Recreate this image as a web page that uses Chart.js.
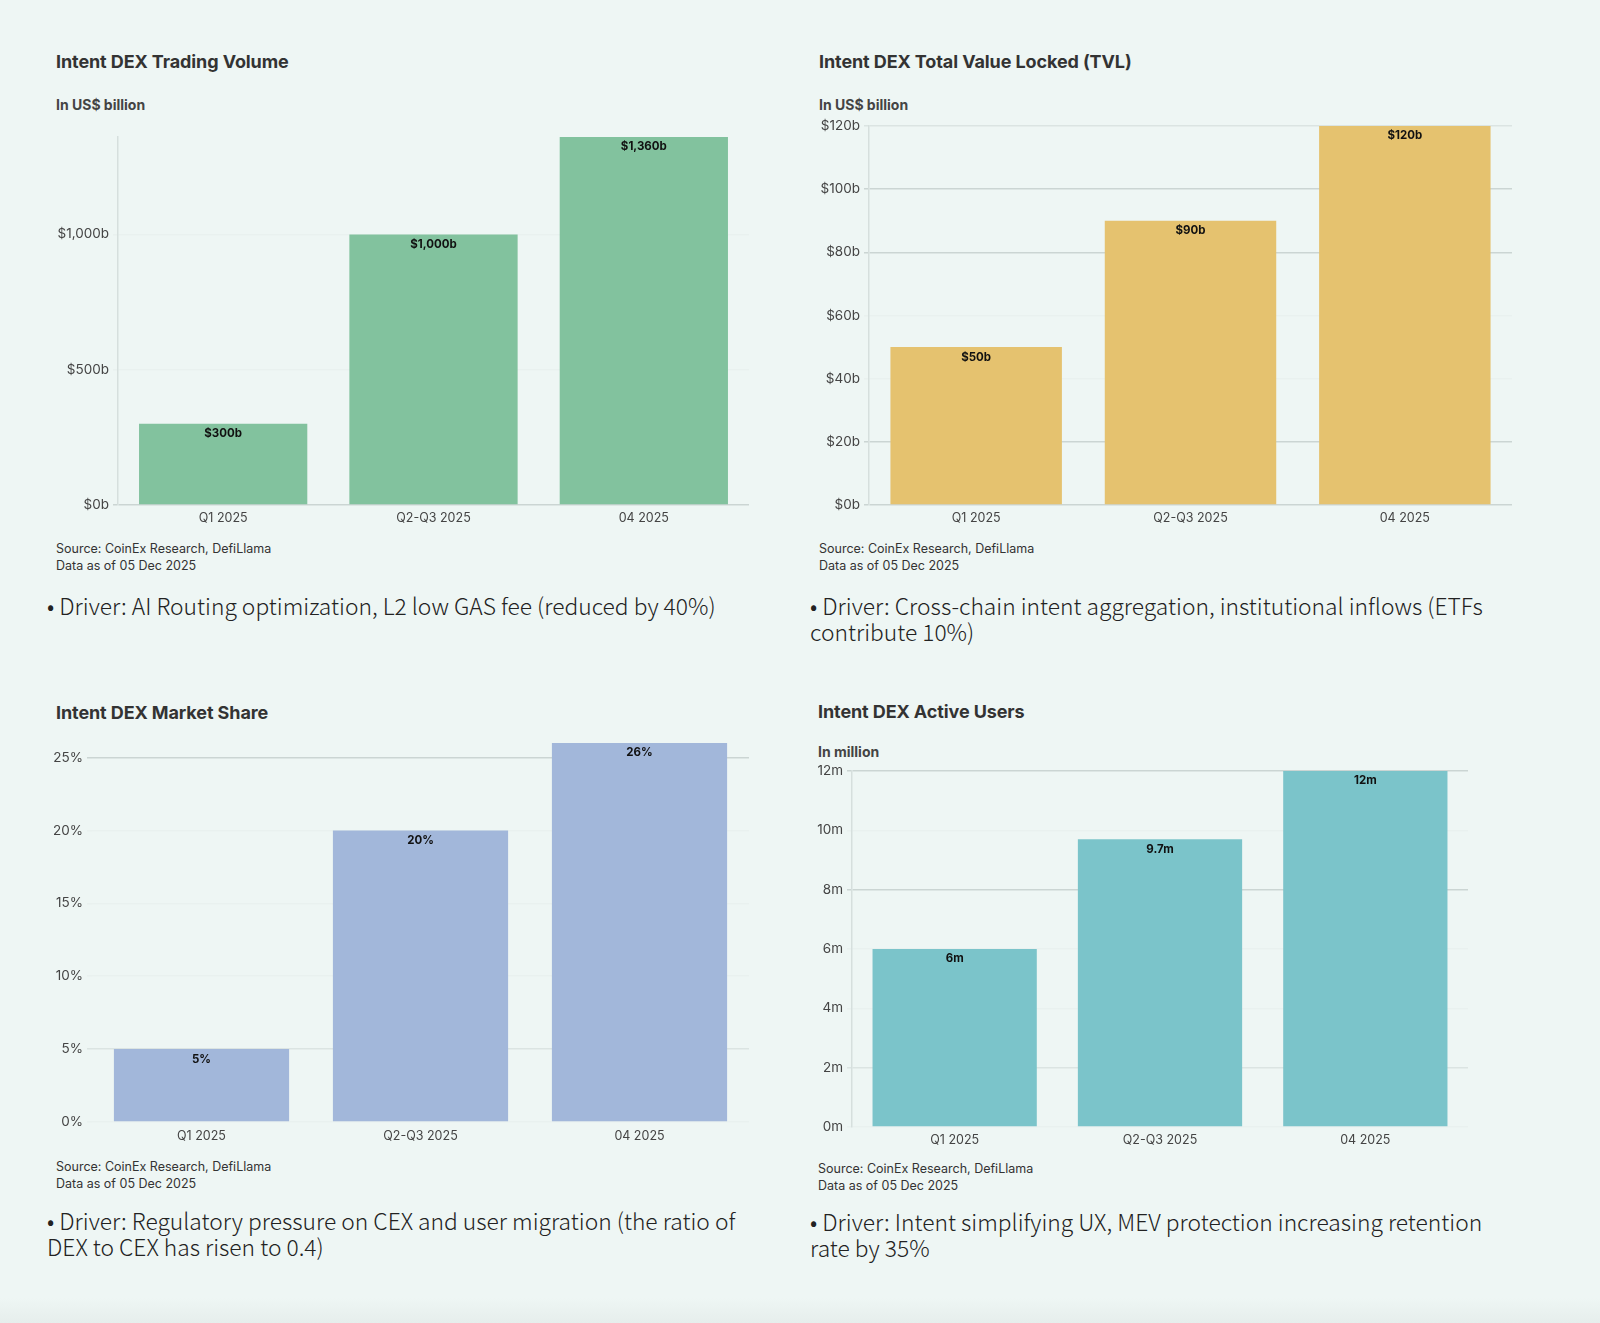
<!DOCTYPE html>
<html>
<head>
<meta charset="utf-8">
<script src="https://cdn.jsdelivr.net/npm/chart.js@4/dist/chart.umd.min.js"></script>
<style>
  html,body{margin:0;padding:0;}
  body{width:1600px;height:1323px;background:#eef6f4;position:relative;overflow:hidden;font-family:Inter,"Liberation Sans",sans-serif;color:#333;}
  .t{position:absolute;white-space:nowrap;}
  .title{font-size:18px;font-weight:700;color:#333;letter-spacing:-0.1px;}
  .sub{font-size:14px;font-weight:700;color:#444;}
  .src{font-size:12.5px;color:#333;line-height:17px;}
  .drv{font-family:"Noto Sans CJK JP","Noto Sans",sans-serif;font-weight:300;font-size:22.8px;color:#222;line-height:26px;}
  canvas{position:absolute;}
  .foot{position:absolute;left:0;right:0;top:1298px;height:25px;background:linear-gradient(#eef6f4,#e6eeec);}
</style>
</head>
<body>
<!-- top left -->
<div class="t title" style="left:56px;top:51px">Intent DEX Trading Volume</div>
<div class="t sub" style="left:56px;top:96px">In US$ billion</div>
<div class="t src" style="left:56px;top:540px">Source: CoinEx Research, DefiLlama<br>Data as of 05 Dec 2025</div>
<div class="t drv" style="left:47px;top:593px">• Driver: AI Routing optimization, L2 low GAS fee (reduced by 40%)</div>

<!-- top right -->
<div class="t title" style="left:819px;top:51px">Intent DEX Total Value Locked (TVL)</div>
<div class="t sub" style="left:819px;top:96px">In US$ billion</div>
<div class="t src" style="left:819px;top:540px">Source: CoinEx Research, DefiLlama<br>Data as of 05 Dec 2025</div>
<div class="t drv" style="left:810px;top:593px">• Driver: Cross-chain intent aggregation, institutional inflows (ETFs<br>contribute 10%)</div>

<!-- bottom left -->
<div class="t title" style="left:56px;top:702px">Intent DEX Market Share</div>
<div class="t src" style="left:56px;top:1158px">Source: CoinEx Research, DefiLlama<br>Data as of 05 Dec 2025</div>
<div class="t drv" style="left:47px;top:1208px">• Driver: Regulatory pressure on CEX and user migration (the ratio of<br>DEX to CEX has risen to 0.4)</div>

<!-- bottom right -->
<div class="t title" style="left:818px;top:701px">Intent DEX Active Users</div>
<div class="t sub" style="left:818px;top:743px">In million</div>
<div class="t src" style="left:818px;top:1160px">Source: CoinEx Research, DefiLlama<br>Data as of 05 Dec 2025</div>
<div class="t drv" style="left:810px;top:1209px">• Driver: Intent simplifying UX, MEV protection increasing retention<br>rate by 35%</div>

<canvas id="cVol"></canvas>
<canvas id="cTvl"></canvas>
<canvas id="cShare"></canvas>
<canvas id="cUsers"></canvas>
<div class="foot"></div>

<script>
// data
const categories = ['Q1 2025', 'Q2-Q3 2025', '04 2025'];
const volume = [300, 1000, 1360];      // US$ billion
const tvl = [50, 90, 120];             // US$ billion
const share = [5, 20, 26];             // %
const users = [6, 9.7, 12];            // million

const volTicks = [0, 500, 1000];
const tvlTicks = [0, 20, 40, 60, 80, 100, 120];
const shareTicks = [0, 5, 10, 15, 20, 25];
const userTicks = [0, 2, 4, 6, 8, 10, 12];

const el = id => document.getElementById(id);
const fmtNum = n => Number(n).toLocaleString('en-US');

// bar value labels, just under the top of each bar
function valueLabels(fmt){
  return {
    id: 'valueLabels',
    afterDatasetsDraw(chart){
      const ctx = chart.ctx;
      ctx.save();
      ctx.font = '700 11.5px Inter, sans-serif';
      ctx.fillStyle = '#111';
      ctx.textAlign = 'center';
      ctx.textBaseline = 'middle';
      chart.getDatasetMeta(0).data.forEach((bar, i) => {
        ctx.fillText(fmt(chart.data.datasets[0].data[i]), bar.x, bar.y + 10);
      });
      ctx.restore();
    }
  };
}

// box = canvas rect on the page, plot = wanted chart area
function makeChart(id, opt){
  const c = el(id);
  const b = opt.box, p = opt.plot;
  c.style.left = b.l + 'px'; c.style.top = b.t + 'px';
  c.width = b.r - b.l; c.height = b.b - b.t;
  c.style.width = c.width + 'px'; c.style.height = c.height + 'px';
  const yW = 70, xH = 28;
  const strong = opt.strong || [];
  const mid = opt.mid || [];
  return new Chart(c.getContext('2d'), {
    type: 'bar',
    data: {
      labels: categories,
      datasets: [{ data: opt.data, backgroundColor: opt.color, borderWidth: 0,
                   categoryPercentage: 0.8, barPercentage: 1 }]
    },
    options: {
      responsive: false, animation: false,
      layout: { padding: { left: p.l - b.l - yW, top: p.t - b.t, right: b.r - p.r, bottom: b.b - p.b - xH } },
      plugins: { legend: { display: false }, tooltip: { enabled: false } },
      scales: {
        x: {
          grid: { display: false, drawTicks: false },
          border: { display: false },
          ticks: { color: '#444', font: { family: 'Inter', size: 12.5 }, padding: opt.xPad || 6 },
          afterFit: s => { s.height = xH; }
        },
        y: {
          min: 0, max: opt.max,
          afterBuildTicks: s => { s.ticks = opt.ticks.map(v => ({ value: v })); },
          grid: {
            tickLength: 5,
            color: ctx => {
              const v = ctx.tick ? ctx.tick.value : null;
              if (strong.includes(v)) return '#cbd5d3';
              if (mid.includes(v)) return '#dbe4e2';
              return '#e9f1ef';
            },
            lineWidth: 1.5
          },
          border: { display: opt.yBorder, color: '#d6dfdd', width: 1.5 },
          ticks: { color: '#444', font: { family: 'Inter', size: 13.5 }, padding: 4,
                   callback: v => opt.tickFmt(v) },
          afterFit: s => { s.width = yW; }
        }
      }
    },
    plugins: [valueLabels(opt.valFmt)]
  });
}

makeChart('cVol', {
  data: volume, ticks: volTicks, max: 1360, color: '#82c29e',
  box: { l: 20, t: 110, r: 770, b: 536 }, plot: { l: 118, t: 137, r: 749, b: 505 },
  strong: [0], yBorder: true,
  tickFmt: v => '$' + fmtNum(v) + 'b', valFmt: v => '$' + fmtNum(v) + 'b'
});
makeChart('cTvl', {
  data: tvl, ticks: tvlTicks, max: 120, color: '#e5c26f',
  box: { l: 780, t: 110, r: 1540, b: 536 }, plot: { l: 869, t: 126, r: 1512, b: 505 },
  strong: [0, 20, 80, 100], mid: [120], yBorder: true,
  tickFmt: v => '$' + v + 'b', valFmt: v => '$' + v + 'b'
});
makeChart('cShare', {
  data: share, ticks: shareTicks, max: 26, color: '#a2b7da',
  box: { l: 20, t: 730, r: 770, b: 1151 }, plot: { l: 92, t: 743, r: 749, b: 1122 },
  strong: [25], mid: [5], yBorder: false, xPad: 7,
  tickFmt: v => v + '%', valFmt: v => v + '%'
});
makeChart('cUsers', {
  data: users, ticks: userTicks, max: 12, color: '#7bc4ca',
  box: { l: 780, t: 758, r: 1540, b: 1156 }, plot: { l: 852, t: 771, r: 1468, b: 1127 },
  strong: [8, 12], mid: [2], yBorder: true,
  tickFmt: v => v + 'm', valFmt: v => v + 'm'
});
</script>
</body>
</html>
